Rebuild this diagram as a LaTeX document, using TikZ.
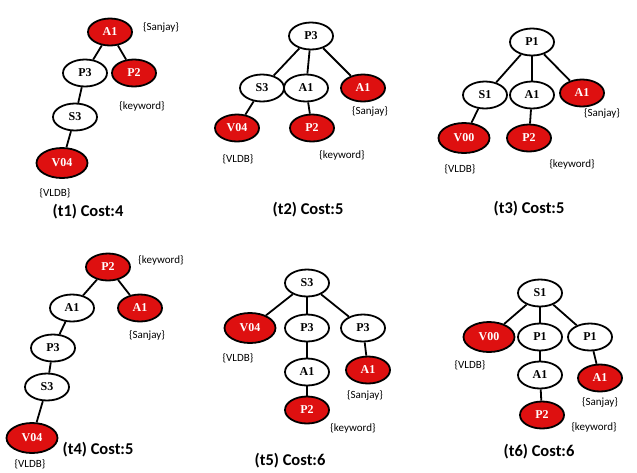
\documentclass[tikz,border=0pt]{standalone}
\usepackage{fontspec}
\setmainfont{Liberation Serif}
\newfontfamily\annfont{Carlito}
\usetikzlibrary{shapes.geometric}
\definecolor{nodered}{RGB}{222,16,16}
\tikzset{
  wn/.style={ellipse, draw=black, line width=1.8pt, fill=white, minimum width=44pt, minimum height=27pt, inner sep=0pt, font=\bfseries\fontsize{12}{12}\selectfont},
  rn/.style={wn, fill=nodered, text=white},
  vn/.style={rn, minimum width=51pt, minimum height=30pt},
  ann/.style={font=\annfont\fontsize{11}{11}\selectfont, inner sep=0pt},
  captxt/.style={font=\annfont\bfseries\fontsize{16.5}{16.5}\selectfont, inner sep=0pt},
  ed/.style={line width=1.8pt}
}
\begin{document}
\begin{tikzpicture}[x=1pt,y=-1pt]
\useasboundingbox (0,0) rectangle (637,472);
% t1
\node[rn] (a1) at (110,32) {A1};
\node[wn] (a2) at (85,73) {P3};
\node[rn] (a3) at (134,73) {P2};
\node[wn] (a4) at (75,117) {S3};
\node[vn] (a5) at (62,163) {V04};
\node[ann] (a6) at (161,27) {\{Sanjay\}};
\node[ann] (a7) at (142,106) {\{keyword\}};
\node[ann] (a8) at (55,193) {\{VLDB\}};
\node[captxt] (a9) at (88,212) {(t1) Cost:4};
\draw[ed] (a1) -- (a2); \draw[ed] (a1) -- (a3);
\draw[ed] (a2) -- (a4); \draw[ed] (a4) -- (a5);
% t2
\node[wn] (b1) at (311,36) {P3};
\node[wn] (b2) at (262,88) {S3};
\node[wn] (b3) at (306,88) {A1};
\node[rn] (b4) at (363,88) {A1};
\node[rn] (b5) at (237,128) {V04};
\node[rn] (b6) at (312,128) {P2};
\node[ann] (b7) at (370,111) {\{Sanjay\}};
\node[ann] (b8) at (238,159) {\{VLDB\}};
\node[ann] (b9) at (342,155) {\{keyword\}};
\node[captxt] (b10) at (308,210) {(t2) Cost:5};
\draw[ed] (b1) -- (b2); \draw[ed] (b1) -- (b3); \draw[ed] (b1) -- (b4);
\draw[ed] (b2) -- (b5); \draw[ed] (b3) -- (b6);
% t3
\node[wn] (c1) at (532,42) {P1};
\node[wn] (c2) at (485,95) {S1};
\node[wn] (c3) at (532,95) {A1};
\node[rn] (c4) at (582,93) {A1};
\node[vn] (c5) at (464,138) {V00};
\node[rn] (c6) at (529,138) {P2};
\node[ann] (c7) at (602,113) {\{Sanjay\}};
\node[ann] (c8) at (460,169) {\{VLDB\}};
\node[ann] (c9) at (572,164) {\{keyword\}};
\node[captxt] (c10) at (529,209) {(t3) Cost:5};
\draw[ed] (c1) -- (c2); \draw[ed] (c1) -- (c3); \draw[ed] (c1) -- (c4);
\draw[ed] (c2) -- (c5); \draw[ed] (c3) -- (c6);
% t4
\node[rn] (d1) at (108,267) {P2};
\node[wn] (d2) at (72,308) {A1};
\node[rn] (d3) at (140,308) {A1};
\node[wn] (d4) at (53,348) {P3};
\node[wn] (d5) at (47,387) {S3};
\node[vn] (d6) at (32,438) {V04};
\node[ann] (d7) at (161,260) {\{keyword\}};
\node[ann] (d8) at (147,335) {\{Sanjay\}};
\node[ann] (d9) at (30,464) {\{VLDB\}};
\node[captxt] (d10) at (98,450) {(t4) Cost:5};
\draw[ed] (d1) -- (d2); \draw[ed] (d1) -- (d3);
\draw[ed] (d2) -- (d4); \draw[ed] (d4) -- (d5); \draw[ed] (d5) -- (d6);
% t5
\node[wn] (e1) at (307,283) {S3};
\node[vn] (e2) at (250,328) {V04};
\node[wn] (e3) at (307,328) {P3};
\node[wn] (e4) at (363,328) {P3};
\node[wn] (e5) at (307,372) {A1};
\node[rn] (e6) at (368,370) {A1};
\node[rn] (e7) at (307,410) {P2};
\node[ann] (e8) at (238,358) {\{VLDB\}};
\node[ann] (e9) at (365,395) {\{Sanjay\}};
\node[ann] (e10) at (353,428) {\{keyword\}};
\node[captxt] (e11) at (290,461) {(t5) Cost:6};
\draw[ed] (e1) -- (e2); \draw[ed] (e1) -- (e3); \draw[ed] (e1) -- (e4);
\draw[ed] (e3) -- (e5); \draw[ed] (e4) -- (e6); \draw[ed] (e5) -- (e7);
% t6
\node[wn] (f1) at (540,293) {S1};
\node[vn] (f2) at (489,337) {V00};
\node[wn] (f3) at (540,337) {P1};
\node[wn] (f4) at (590,337) {P1};
\node[wn] (f5) at (540,375) {A1};
\node[rn] (f6) at (600,378) {A1};
\node[rn] (f7) at (542,415) {P2};
\node[ann] (f8) at (470,365) {\{VLDB\}};
\node[ann] (f9) at (600,402) {\{Sanjay\}};
\node[ann] (f10) at (594,427) {\{keyword\}};
\node[captxt] (f11) at (539,452) {(t6) Cost:6};
\draw[ed] (f1) -- (f2); \draw[ed] (f1) -- (f3); \draw[ed] (f1) -- (f4);
\draw[ed] (f3) -- (f5); \draw[ed] (f4) -- (f6); \draw[ed] (f5) -- (f7);
\end{tikzpicture}
\end{document}
